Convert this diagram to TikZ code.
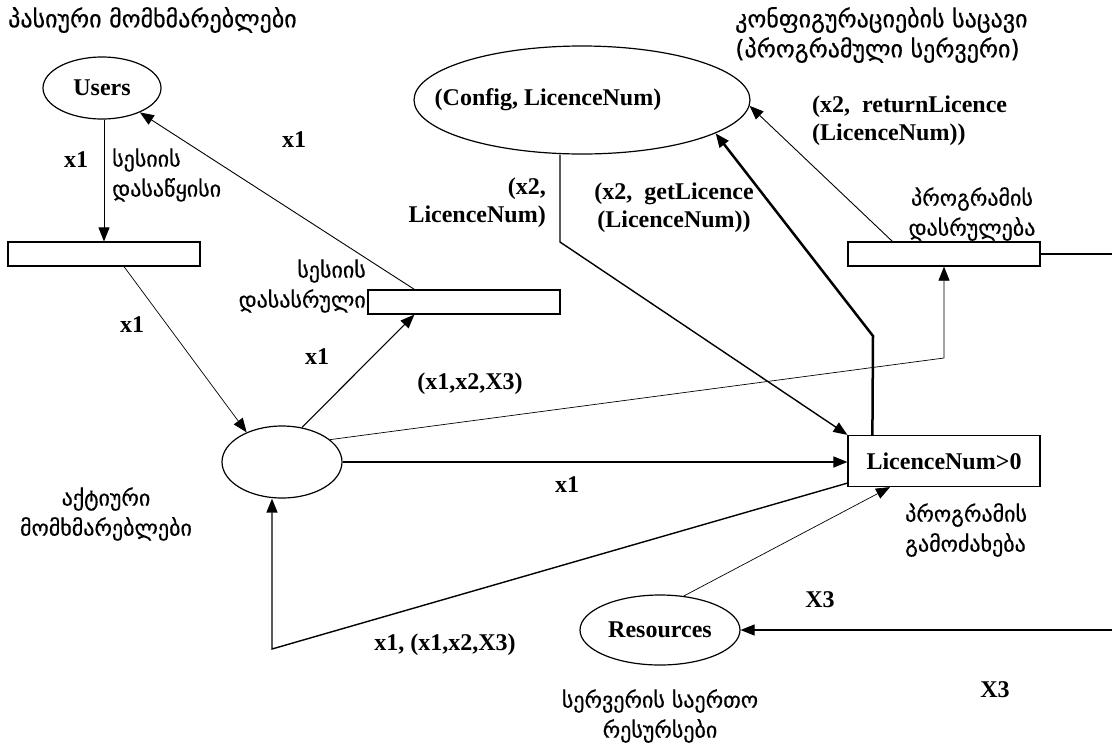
\documentclass[tikz,border=0pt]{standalone}
\usepackage{fontspec}
\setmainfont{Liberation Serif}
\newfontfamily\geofont[FakeBold=0.5]{DejaVu Sans}
\usetikzlibrary{shapes.geometric, arrows.meta, positioning, calc}
\tikzset{
    placebox/.style={ellipse, draw, line width=1.2pt, inner sep=0pt,
        font=\bfseries\fontsize{24}{28}\selectfont},
    transbox/.style={rectangle, draw, line width=1.2pt, minimum width=192pt,
        minimum height=24pt, inner sep=0pt, font=\bfseries\fontsize{24}{28}\selectfont},
    arclabel/.style={inner sep=0pt, font=\bfseries\fontsize{24}{28}\selectfont},
    geolabel/.style={inner sep=0pt, font=\geofont\fontsize{22}{30}\selectfont},
    geotitle/.style={geolabel, font=\geofont\fontsize{24}{30}\selectfont},
    flowarrow/.style={-{Triangle[length=14pt, width=11pt]}, line width=0.9pt},
}

\begin{document}
\begin{tikzpicture}[x=1pt, y=-1pt]
    \useasboundingbox (0,0) rectangle (1112,748);
    % places and transitions
    \node[placebox, minimum width=118pt, minimum height=62pt] (users) at (102,88) {Users};
    \node[placebox, minimum width=336pt, minimum height=108pt,
        label={[arclabel, name=cfgtext, xshift=-34pt]center:(Config, LicenceNum)}] (cfg) at (582,100) {};
    \node[transbox] (start) at (104,254) {};
    \node[transbox] (sesend) at (464,302) {};
    \node[transbox] (pend) at (944,254) {};
    \node[placebox, minimum width=120pt, minimum height=72pt] (active) at (282,462) {};
    \node[transbox, minimum height=51pt] (lic) at (944,461) {LicenceNum>0};
    \node[placebox, minimum width=160pt, minimum height=70pt] (res) at (660,630) {Resources};

    % bend points
    \coordinate (bendA) at (944,358);
    \coordinate (bendB) at (272,649);
    \coordinate (bendC) at (560,242);
    \coordinate (bendD) at (873,336);
    \coordinate (offright) at (1130,254);

    % connectors
    \draw[flowarrow] (start.north |- users.south) -- (start.north);
    \draw[flowarrow, line width=0.7pt] ($(start.south)+(20,0)$) -- (active.140);
    \draw[flowarrow, line width=1.1pt] (active.60) -- ($(sesend.south west)+(47,0)$);
    \draw[flowarrow] ($(sesend.north west)+(47,0)$) -- (users);
    \draw[flowarrow, line width=0.7pt] (active.25) -- (bendA) -- (pend.south);
    \draw[flowarrow, line width=1.4pt] (active.east) -- (active.east -| lic.west);
    \draw[flowarrow, line width=1.4pt] ($(lic.south west)+(0,-4)$) -- (bendB) -- (bendB |- active.south);
    \draw[flowarrow, line width=1.4pt] ($(cfg.south)+(-22,0)$) -- (bendC) -- (lic.north west);
    \draw[flowarrow, line width=2.5pt] ($(lic.north west)+(25,0)$) -- (bendD) -- (cfg.-14);
    \draw[flowarrow] ($(pend.north west)+(45,0)$) -- (cfg.-2);
    \draw[flowarrow, line width=1.2pt] (pend.east) -- (offright) |- (res.east);
    \draw[flowarrow, line width=0.7pt] (res.55) -- ($(lic.south)+(-54,0)$);

    % arc labels
    \node[arclabel] (xa) at (76,160) {x1};
    \node[arclabel] (xb) at (294,140) {x1};
    \node[arclabel, align=right, anchor=east] (xc) at (546,203) {(x2,\\LicenceNum)};
    \node[arclabel, align=center] (xd) at (674,208) {(x2,~ getLicence\\(LicenceNum))};
    \node[arclabel, align=left, anchor=west] (xe) at (812,121) {(x2,~ returnLicence\\(LicenceNum))};
    \node[arclabel] (xf) at (132,325) {x1};
    \node[arclabel] (xg) at (317,357) {x1};
    \node[arclabel] (xh) at (470,384) {(x1,x2,X3)};
    \node[arclabel] (xi) at (567,485) {x1};
    \node[arclabel] (xj) at (820,600) {X3};
    \node[arclabel] (xk) at (445,645) {x1, (x1,x2,X3)};
    \node[arclabel] (xl) at (995,690) {X3};

    % georgian captions
    \node[geotitle, anchor=west] (passive) at (8,20) {პასიური მომხმარებლები};
    \node[geotitle, align=left, anchor=west] (store) at (735,35) {კონფიგურაციების საცავი\\(პროგრამული სერვერი)};
    \node[geolabel, align=left, anchor=west] (startlbl) at (112,175) {სესიის\\დასაწყისი};
    \node[geolabel, align=right, anchor=east] (endlbl) at (366,286) {სესიის\\დასასრული};
    \node[geolabel, align=center] (pendlbl) at (972,214) {პროგრამის\\დასრულება};
    \node[geolabel, align=center] (actlbl) at (106,514) {აქტიური\\მომხმარებლები};
    \node[geolabel, align=left, anchor=west] (calllbl) at (905,530) {პროგრამის\\გამოძახება};
    \node[geolabel, align=center] (reslbl) at (660,716) {სერვერის საერთო\\რესურსები};
\end{tikzpicture}
\end{document}
